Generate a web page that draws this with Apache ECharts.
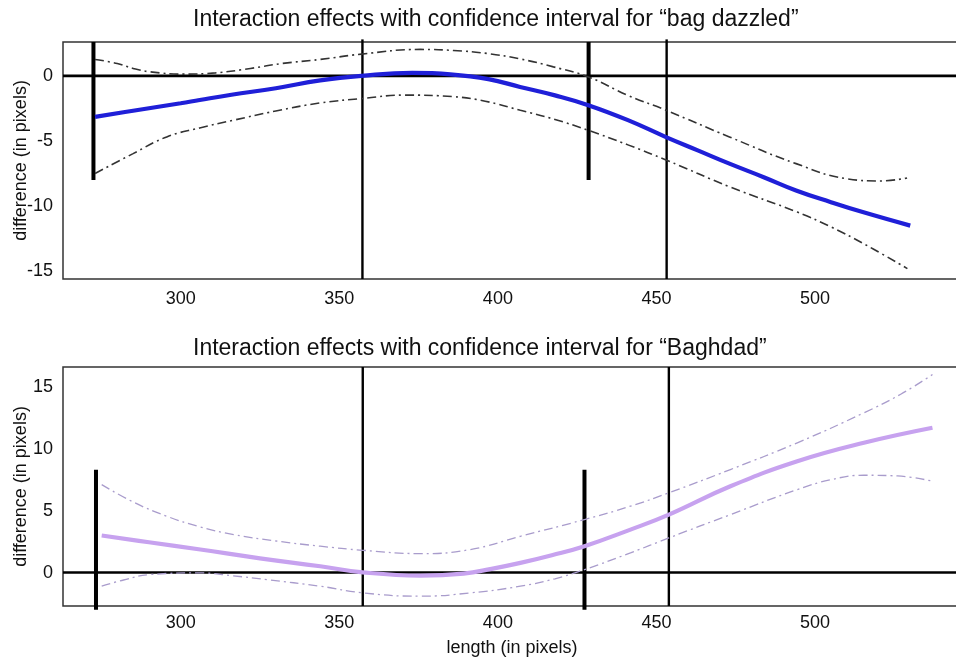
<!DOCTYPE html>
<html>
<head>
<meta charset="utf-8">
<script src="https://cdn.jsdelivr.net/npm/echarts@6/dist/echarts.min.js"></script>
<style>
html,body{margin:0;padding:0;background:#fff;}
#chart{width:956px;height:658px;}
</style>
</head>
<body>
<div id="chart"></div>
<script>
// ---------- data ----------
const titleTop = 'Interaction effects with confidence interval for \u201cbag dazzled\u201d';
const titleBottom = 'Interaction effects with confidence interval for \u201cBaghdad\u201d';
const xAxisName = 'length (in pixels)';
const yAxisName = 'difference (in pixels)';

const xTicks = [300, 350, 400, 450, 500];
const xRange = [262.9, 546];
const yTicksTop = [-15, -10, -5, 0];
const yRangeTop = [-15.6, 2.6];
const yTicksBottom = [0, 5, 10, 15];
const yRangeBottom = [-2.7, 16.6];

// "bag dazzled" fitted difference and confidence bounds
const bagFit = [[273,-3.15],[285,-2.68],[300,-2.1],[306,-1.85],[316,-1.45],[330,-0.95],[344,-0.35],[357,0.0],[373,0.23],[385,0.12],[397,-0.25],[407,-0.85],[418,-1.5],[428.5,-2.25],[441,-3.4],[453,-4.7],[463,-5.72],[473,-6.74],[484,-7.8],[494,-8.8],[505,-9.7],[515,-10.46],[530,-11.5]];
const bagUpper = [[273,1.26],[280,0.95],[285,0.57],[290.4,0.31],[301,0.13],[311,0.23],[322,0.57],[332,0.95],[344,1.26],[357,1.67],[375.6,2.03],[386,1.95],[396.6,1.72],[407,1.3],[417.5,0.69],[428.5,-0.08],[441,-1.5],[453,-2.64],[473,-4.69],[494,-6.74],[510,-7.9],[520.7,-8.07],[529,-7.84]];
const bagLower = [[273,-7.5],[285,-5.97],[295.6,-4.69],[306,-4.0],[316.6,-3.41],[330,-2.7],[344,-2.08],[357.4,-1.74],[370.3,-1.48],[386.1,-1.6],[396,-1.95],[407.1,-2.64],[418,-3.35],[428.5,-4.18],[441,-5.3],[453.2,-6.48],[473.3,-8.54],[494.4,-10.46],[505,-11.6],[515.4,-12.9],[529.1,-14.8]];

// "Baghdad" fitted difference and confidence bounds
const bagdFit = [[275.1,2.99],[290,2.45],[306.2,1.86],[325,1.15],[344,0.51],[357.4,0.02],[375.6,-0.24],[389.2,-0.08],[398,0.3],[407.1,0.78],[417,1.4],[427.3,2.13],[441.8,3.47],[453.9,4.68],[473.3,6.97],[494.4,8.99],[515.4,10.48],[537,11.69]];
const bagdUpper = [[275.1,7.1],[285,5.7],[295.6,4.55],[306,3.7],[316.7,3.07],[330,2.55],[344,2.13],[357.4,1.8],[375.6,1.53],[391.3,1.86],[407.1,2.93],[427.3,4.28],[441.8,5.36],[453.9,6.44],[473.3,8.32],[494.4,10.48],[515.4,12.9],[527,14.4],[537,15.99]];
const bagdLower = [[275.1,-1.1],[282,-0.6],[290.4,-0.16],[306.2,-0.03],[316,-0.25],[327.2,-0.57],[344,-1.1],[357.4,-1.64],[375.6,-1.91],[391.3,-1.64],[407.1,-1.1],[418,-0.5],[427.3,0.24],[441.8,1.59],[453.9,2.8],[473.3,4.68],[494.4,6.7],[505,7.5],[515.4,7.86],[526,7.8],[537,7.38]];

// reference (vertical) lines: x position, y from, y to
const topThinLines = [[357.3, 2.8, -15.6],[453.2, 2.8, -15.6]];
const topThickLines = [[272.5, 2.6, -8.0],[428.6, 2.6, -8.0]];
const bottomThinLines = [[357.4, 16.6, -2.7],[453.9, 16.6, -2.7]];
const bottomThickLines = [[273.3, 8.3, -3.0],[427.3, 8.3, -3.0]];

// ---------- chart ----------
const FONT = 'Liberation Sans, Arial, sans-serif';
const chart = echarts.init(document.getElementById('chart'), null, {renderer:'canvas'});

function vlineSeries(lines, gi, width){
  return lines.map(l => ({
    type:'line', xAxisIndex:gi, yAxisIndex:gi, symbol:'none', clip:false, silent:true,
    data:[[l[0], l[1]],[l[0], l[2]]],
    lineStyle:{color:'#000', width:width}, z:3
  }));
}
function curve(data, gi, color, width, dash, z){
  return {type:'line', xAxisIndex:gi, yAxisIndex:gi, symbol:'none', smooth:0.45, silent:true,
    data:data, lineStyle:{color:color, width:width, type:dash||'solid', cap:'butt'}, z:z};
}
function zeroLine(gi){
  return {type:'line', xAxisIndex:gi, yAxisIndex:gi, symbol:'none', silent:true,
    data:[[xRange[0],0],[xRange[1],0]], lineStyle:{color:'#000', width:2.6}, z:3};
}

const xAxisCommon = (gi, margin, showName) => ({
  type:'value', gridIndex:gi, min:xRange[0], max:xRange[1],
  axisLine:{show:false}, axisTick:{show:false}, splitLine:{show:false},
  axisLabel:{customValues:xTicks, fontFamily:FONT, fontSize:18, color:'#111', margin:margin},
  name: showName ? xAxisName : '', nameLocation:'middle', nameGap:33, nameMoveOverlap:false,
  nameTextStyle:{fontFamily:FONT, fontSize:18, color:'#111'}
});
const yAxisCommon = (gi, range, ticks) => ({
  type:'value', gridIndex:gi, min:range[0], max:range[1],
  axisLine:{show:false}, axisTick:{show:false}, splitLine:{show:false},
  axisLabel:{customValues:ticks, fontFamily:FONT, fontSize:18, color:'#111', margin:10},
  name:yAxisName, nameLocation:'middle', nameGap:33, nameRotate:90, nameMoveOverlap:false,
  nameTextStyle:{fontFamily:FONT, fontSize:18, color:'#111'}
});

const dashDot = [9,4,2,4];

chart.setOption({
  animation:false,
  backgroundColor:'#fff',
  title:[
    {text:titleTop, left:188, top:3, textStyle:{fontFamily:FONT, fontSize:23, fontWeight:'normal', color:'#111'}},
    {text:titleBottom, left:188, top:332, textStyle:{fontFamily:FONT, fontSize:23, fontWeight:'normal', color:'#111'}}
  ],
  grid:[
    {left:63, top:42, width:898, height:237, show:true, borderColor:'#333', borderWidth:1.5, backgroundColor:'transparent', containLabel:false, outerBoundsMode:'none'},
    {left:63, top:367, width:898, height:239, show:true, borderColor:'#333', borderWidth:1.5, backgroundColor:'transparent', containLabel:false, outerBoundsMode:'none'}
  ],
  xAxis:[xAxisCommon(0, 11, false), xAxisCommon(1, 8, true)],
  yAxis:[yAxisCommon(0, yRangeTop, yTicksTop), yAxisCommon(1, yRangeBottom, yTicksBottom)],
  series:[
    zeroLine(0),
    ...vlineSeries(topThinLines, 0, 2.4),
    ...vlineSeries(topThickLines, 0, 4),
    curve(bagUpper, 0, '#333', 1.6, dashDot, 4),
    curve(bagLower, 0, '#333', 1.6, dashDot, 4),
    curve(bagFit, 0, '#1f1fd8', 4.2, 'solid', 5),
    zeroLine(1),
    ...vlineSeries(bottomThinLines, 1, 2.4),
    ...vlineSeries(bottomThickLines, 1, 4),
    curve(bagdUpper, 1, '#a99ccc', 1.3, dashDot, 4),
    curve(bagdLower, 1, '#a99ccc', 1.3, dashDot, 4),
    curve(bagdFit, 1, '#c7a2ef', 4.2, 'solid', 5)
  ]
});
</script>
</body>
</html>
